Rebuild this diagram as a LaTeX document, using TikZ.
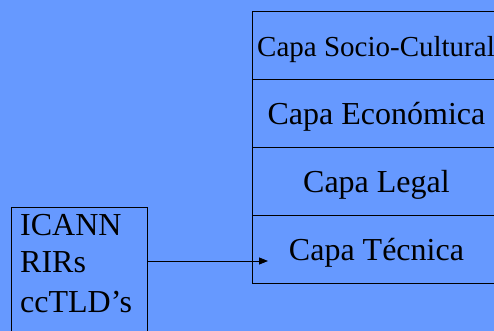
\documentclass[tikz,border=0pt]{standalone}
\usepackage{fontspec}
\setmainfont{Liberation Serif}
\usetikzlibrary{arrows.meta,calc}
\definecolor{slidebg}{RGB}{102,153,255}

\begin{document}
\begin{tikzpicture}[x=1pt,y=1pt,
    layer/.style={draw,line width=.9pt,minimum width=248pt,minimum height=68pt,inner sep=0pt},
    lbl/.style={inner sep=0pt,font=\fontsize{32}{38.4}\selectfont}]
      \useasboundingbox (0,0) rectangle (494,331);
      \fill[slidebg] (0,0) rectangle (494,331);
      \clip (0,0) rectangle (494,331);
      % stack of layers
      \foreach \n/\k in {socio/0,economica/1,legal/2,tecnica/3}{%
        \node[layer,anchor=north west] (\n) at (252,320-\k*68) {};
      }
      \node[lbl,font=\fontsize{29}{34.8}\selectfont,anchor=base west] (socio-t) at ($(socio.west)+(5,-11)$) {Capa Socio-Cultural};
      \foreach \n/\t in {economica/Capa Económica,legal/Capa Legal,tecnica/Capa Técnica}{%
        \node[lbl,anchor=base] (\n-t) at ($(\n.center)+(0,-11)$) {\t};
      }
      % organisations
      \node[layer,minimum width=136pt,minimum height=150pt,anchor=north west] (orgs) at (11,124) {};
      \node[lbl,anchor=base west] (icann) at (20,95) {ICANN};
      \node[lbl,anchor=base west] (rirs) at (20,58) {RIRs};
      \node[lbl,anchor=base west] (cctld) at (20,18) {ccTLD’s};
      \coordinate (tip) at (268,70);
      \draw[line width=.9pt,-{Triangle[length=9pt,width=7pt]}] (orgs.east |- tip) -- (tip);
\end{tikzpicture}
\end{document}
